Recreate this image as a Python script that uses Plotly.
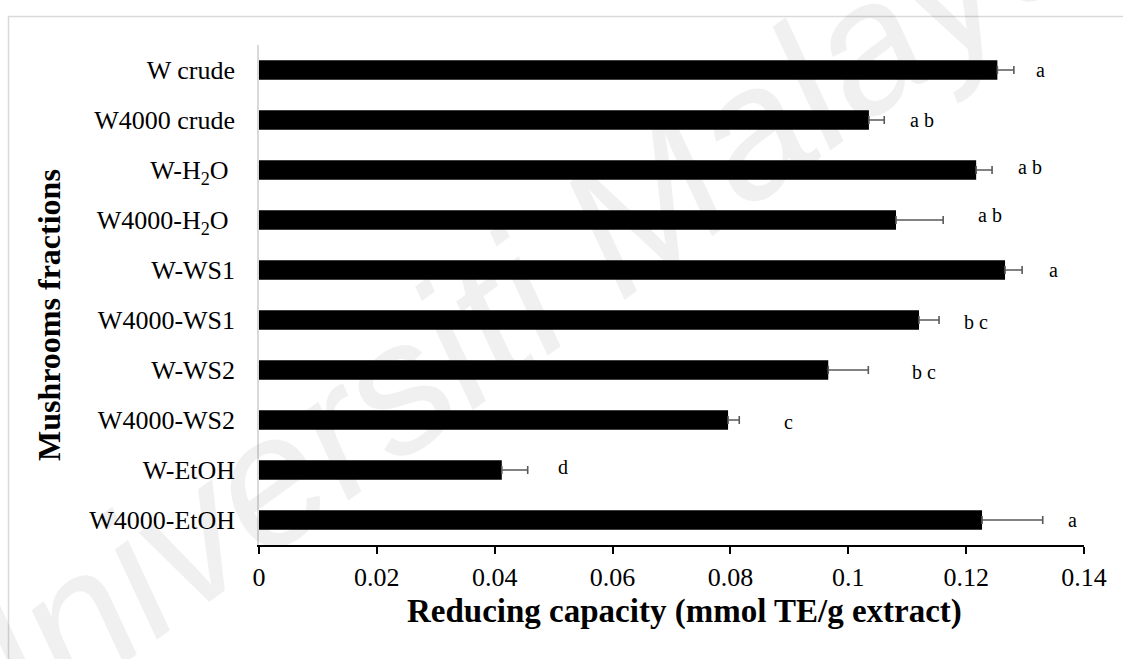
import plotly.graph_objects as go

# Fractions, top to bottom
fractions = [
    "W crude", "W4000 crude", "W-H<sub>2</sub>O\u00a0", "W4000-H<sub>2</sub>O\u00a0",
    "W-WS1", "W4000-WS1", "W-WS2", "W4000-WS2", "W-EtOH", "W4000-EtOH",
]
# Reducing capacity (mmol TE/g extract) and standard deviation
capacity = [0.1253, 0.1035, 0.1217, 0.1081, 0.1266, 0.1120, 0.0966, 0.0796, 0.0412, 0.1227]
std_dev = [0.0028, 0.0026, 0.0027, 0.0080, 0.0029, 0.0034, 0.0068, 0.0019, 0.0044, 0.0103]
# Significance groups
groups = ["a", "a b", "a b", "a b", "a", "b c", "b c", "c", "d", "a"]

# Placement of the significance letters (x in data units, vertical nudge in px)
group_x = [0.1327, 0.1125, 0.1308, 0.1240, 0.1349, 0.1217, 0.1128, 0.0899, 0.0516, 0.1381]
group_yshift = [0, 0, 3, 5, 0, -2, -2, -2, 3, 0]

W, H = 1123, 659
ML, MR, MT, MB = 259, 39, 45, 114
PW, PH = W - ML - MR, H - MT - MB

SERIF = "Liberation Serif, Times New Roman, serif"


def px_to_paper_x(px):
    return (px - ML) / PW


def px_to_paper_y(py):
    return 1 - (py - MT) / PH


fig = go.Figure(
    go.Bar(
        x=capacity,
        y=fractions,
        orientation="h",
        marker=dict(color="black", line=dict(width=0)),
        error_x=dict(
            type="data",
            array=std_dev,
            symmetric=False,
            arrayminus=[0] * len(std_dev),
            color="#5a5a5a",
            thickness=1.6,
            width=4,
        ),
        cliponaxis=False,
    )
)

annotations = []
for gx, label, ys, cat in zip(group_x, groups, group_yshift, fractions):
    annotations.append(dict(
        x=gx, y=cat, xref="x", yref="y", text=label, showarrow=False,
        font=dict(family=SERIF, size=20, color="black"),
        xanchor="center", yanchor="middle", yshift=ys,
    ))

# Axis titles
annotations.append(dict(
    x=px_to_paper_x(684), y=px_to_paper_y(611), xref="paper", yref="paper",
    text="<b>Reducing capacity (mmol TE/g extract)</b>", showarrow=False,
    font=dict(family=SERIF, size=33, color="black"),
    xanchor="center", yanchor="middle",
))
annotations.append(dict(
    x=px_to_paper_x(49), y=px_to_paper_y(315), xref="paper", yref="paper",
    text="<b>Mushrooms fractions</b>", showarrow=False, textangle=-90,
    font=dict(family=SERIF, size=32, color="black"),
    xanchor="center", yanchor="middle",
))

# Faint repository watermark running across the page
annotations.append(dict(
    x=px_to_paper_x(495), y=px_to_paper_y(315), xref="paper", yref="paper",
    text="<i>Universiti Malaya</i>", showarrow=False, textangle=-36,
    font=dict(family="Liberation Sans, Arial, sans-serif", size=185,
              color="rgba(0,0,0,0.06)"),
    xanchor="center", yanchor="middle",
))

fig.update_layout(
    width=W, height=H,
    margin=dict(l=ML, r=MR, t=MT, b=MB),
    paper_bgcolor="white", plot_bgcolor="white",
    showlegend=False,
    bargap=0.61,
    annotations=annotations,
    shapes=[dict(
        type="rect", xref="paper", yref="paper",
        x0=px_to_paper_x(8.5), x1=px_to_paper_x(1140),
        y0=px_to_paper_y(680), y1=px_to_paper_y(16.5),
        line=dict(color="#d9d9d9", width=1.5), fillcolor="rgba(0,0,0,0)",
        layer="below",
    )],
    xaxis=dict(
        range=[0, 0.14],
        tickvals=[0, 0.02, 0.04, 0.06, 0.08, 0.1, 0.12, 0.14],
        ticktext=["0", "0.02", "0.04", "0.06", "0.08", "0.1", "0.12", "0.14"],
        showgrid=False, zeroline=False,
        showline=True, linecolor="black", linewidth=2,
        ticks="outside", ticklen=7, tickwidth=2, tickcolor="black",
        tickfont=dict(family=SERIF, size=26, color="black"),
        ticklabelstandoff=1,
    ),
    yaxis=dict(
        categoryorder="array", categoryarray=fractions, autorange="reversed",
        showgrid=False, zeroline=False,
        showline=True, linecolor="#d9d9d9", linewidth=1.5,
        ticks="", tickfont=dict(family=SERIF, size=26, color="black"),
        ticklabelstandoff=17,
    ),
)

fig.write_html("out.html")
